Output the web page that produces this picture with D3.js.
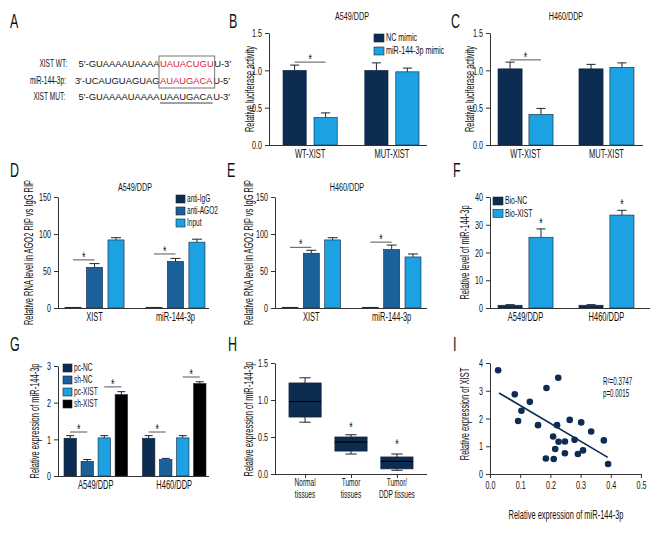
<!DOCTYPE html>
<html><head><meta charset="utf-8">
<script src="https://cdn.jsdelivr.net/npm/d3@7"></script>
<style>body{margin:0;background:#fff}svg{display:block}</style>
</head><body>
<svg id="fig" width="670" height="540"></svg>
<script>
// ---------------- DATA ----------------
// Panel A sequences
const seqLabels = ['XIST WT:', 'miR-144-3p:', 'XIST MUT:'];
const seqPrefix = ["5\u2032-GUAAAAUAAAA", "3\u2032-UCAUGUAGUAG", "5\u2032-GUAAAAUAAAA"];
const seqSite = ['UAUACUGU', 'AUAUGACA', 'UAAUGACA'];
const seqSuffix = ["U-3\u2032", "U-5\u2032", "U-3\u2032"];

// Panel B / C (luciferase)
const lucGroups = ['WT-XIST', 'MUT-XIST'];
const lucSeries = ['NC mimic', 'miR-144-3p mimic'];
const bValues = [[1.00, 0.37], [1.00, 0.98]];
const bErrors = [[0.07, 0.06], [0.10, 0.05]];
const cValues = [[1.02, 0.41], [1.02, 1.04]];
const cErrors = [[0.09, 0.08], [0.06, 0.06]];
const lucTicks = [0, 0.5, 1.0, 1.5];

// Panel D / E (RIP)
const ripGroups = ['XIST', 'miR-144-3p'];
const ripSeries = ['anti-IgG', 'anti-AGO2', 'Input'];
const dValues = [[1, 55, 92], [1, 63, 89]];
const dErrors = [[0, 5, 3], [0, 4, 4]];
const eValues = [[1, 74, 92], [1, 79, 69]];
const eErrors = [[0, 4, 3], [0, 6, 4]];
const ripTicks = [0, 50, 100, 150];

// Panel F (pull-down)
const cellGroups = ['A549/DDP', 'H460/DDP'];
const fSeries = ['Bio-NC', 'Bio-XIST'];
const fValues = [[1.0, 25.5], [1.0, 33.5]];
const fErrors = [[0.2, 3.0], [0.2, 1.7]];
const fTicks = [0, 10, 20, 30, 40];

// Panel G
const gSeries = ['pc-NC', 'sh-NC', 'pc-XIST', 'sh-XIST'];
const gValues = [[1.03, 0.40, 1.04, 2.22], [1.03, 0.45, 1.04, 2.52]];
const gErrors = [[0.07, 0.05, 0.06, 0.08], [0.07, 0.03, 0.06, 0.05]];
const gTicks = [0, 1, 2, 3];

// Panel H (box plots: min, q1, median, q3, max)
const hGroups = [['Normal', 'tissues'], ['Tumor', 'tissues'], ['Tumor/', 'DDP tissues']];
const hBoxes = [[0.70, 0.77, 0.98, 1.23, 1.30], [0.27, 0.31, 0.43, 0.50, 0.53], [0.05, 0.07, 0.17, 0.23, 0.27]];
const hStars = [null, 0.62, 0.39];
const hTicks = [0, 0.5, 1.0, 1.5];

// Panel I (scatter)
const iX = [0.027, 0.082, 0.104, 0.093, 0.132, 0.159, 0.187, 0.226, 0.185, 0.211, 0.209, 0.222,
            0.216, 0.227, 0.248, 0.248, 0.264, 0.280, 0.291, 0.302, 0.308, 0.335, 0.377, 0.391];
const iY = [3.74, 2.87, 2.28, 1.91, 2.60, 1.76, 3.10, 3.47, 0.56, 0.54, 1.35, 1.76,
            0.90, 1.16, 1.17, 0.75, 1.95, 1.23, 0.72, 1.86, 0.85, 1.53, 1.21, 0.36];
const iFitX = [0.03, 0.39];
const iFitY = [2.92, 0.60];
const iXTicks = [0, 0.1, 0.2, 0.3, 0.4, 0.5];
const iYTicks = [0, 1, 2, 3, 4];
const iStats = ['R\u00b2=0.3747', 'p=0.0015'];

// ---------------- STYLE ----------------
const FONT = "'Liberation Sans Narrow','Liberation Sans',Arial,sans-serif";
const NAVY = '#0c2c52', MID = '#1a619c', LIGHT = '#1ca1e2', BLACK = '#000000';
const AX = '#333';
const TICK = 11.5, LAB = 12;
const svg = d3.select('#fig');
svg.append('rect').attr('width', 670).attr('height', 540).attr('fill', '#fff');

function txt(g, x, y, s, size, anchor) {
  return g.append('text').attr('class', 'cnd').attr('x', x).attr('y', y).text(s)
    .attr('font-family', FONT).attr('font-size', size).attr('fill', '#111')
    .attr('text-anchor', anchor || 'start');
}
function styleAxis(a) {
  a.selectAll('path,line').attr('stroke', AX);
  a.selectAll('text').attr('class', 'cnd').attr('font-family', FONT).attr('font-size', TICK).attr('fill', '#111');
}

// panel letters
[['A', 10, 28], ['B', 229, 28], ['C', 451, 28], ['D', 10, 177], ['E', 227, 177], ['F', 453, 177],
 ['G', 10, 351], ['H', 228, 351], ['I', 453, 351]].forEach(d => txt(svg, d[1], d[2], d[0], 20));

// ---------------- PANEL A ----------------
(function () {
  const g = svg.append('g');
  const ys = [67, 84, 100];
  const siteX = 160;
  const SF = "'Liberation Sans','DejaVu Sans',sans-serif";
  let maxW = 0;
  seqLabels.forEach((lab, i) => {
    txt(g, 67 - i, ys[i], lab, 10.5, 'end');
    g.append('text').attr('x', siteX - 0.5).attr('y', ys[i]).attr('text-anchor', 'end')
      .attr('font-family', SF).attr('font-size', 9.4).attr('fill', '#111').text(seqPrefix[i]);
    const site = g.append('text').attr('x', siteX).attr('y', ys[i])
      .attr('font-family', SF).attr('font-size', 9.4)
      .attr('fill', i < 2 ? '#e0203a' : '#111').text(seqSite[i]);
    const w = site.node().getComputedTextLength();
    if (i < 2) maxW = Math.max(maxW, w);
    g.append('text').attr('x', siteX + w + 0.5).attr('y', ys[i])
      .attr('font-family', SF).attr('font-size', 9.4).attr('fill', '#111').text(seqSuffix[i]);
    if (i === 2) g.append('line').attr('x1', siteX).attr('x2', siteX + w).attr('y1', ys[i] + 3).attr('y2', ys[i] + 3)
      .attr('stroke', '#111').attr('stroke-width', 0.8);
  });
  g.append('rect').attr('x', siteX - 1).attr('y', 56).attr('width', maxW + 2).attr('height', 32)
    .attr('fill', 'none').attr('stroke', '#777').attr('stroke-width', 1);
})();

// ---------------- BAR PANEL HELPER ----------------
function barPanel(o) {
  const g = svg.append('g');
  const y = d3.scaleLinear().domain([o.ticks[0], o.ticks[o.ticks.length - 1]]).range([o.yBottom, o.yTop]);
  const gx = d3.scaleBand().domain(o.groups).range(o.groupRange).paddingInner(o.groupPad).paddingOuter(0);
  const sx = d3.scaleBand().domain(d3.range(o.series.length)).range([0, gx.bandwidth()]).paddingInner(o.innerPad).paddingOuter(0);
  const bw = sx.bandwidth();
  o.groups.forEach((grp, gi) => {
    o.series.forEach((s, si) => {
      const v = o.values[gi][si], e = o.errors[gi][si];
      const x = gx(grp) + sx(si);
      const cx = x + bw / 2;
      if (e > 0) {
        g.append('line').attr('x1', cx).attr('x2', cx).attr('y1', y(v)).attr('y2', y(v + e)).attr('stroke', '#1a2433').attr('stroke-width', 1);
        const cw = o.cap;
        g.append('line').attr('x1', cx - cw / 2).attr('x2', cx + cw / 2).attr('y1', y(v + e)).attr('y2', y(v + e)).attr('stroke', '#1a2433').attr('stroke-width', 1);
      }
      g.append('rect').attr('x', x).attr('y', y(v)).attr('width', bw).attr('height', y(o.ticks[0]) - y(v))
        .attr('fill', o.colors[si]).attr('stroke', '#14253a').attr('stroke-width', 0.6);
    });
  });
  const ya = g.append('g').attr('transform', `translate(${o.axisX},0)`)
    .call(d3.axisLeft(y).tickValues(o.ticks).tickSize(4).tickSizeOuter(0).tickFormat(o.fmt));
  styleAxis(ya);
  g.append('line').attr('x1', o.axisX).attr('x2', o.xEnd).attr('y1', o.yBottom + 0.5).attr('y2', o.yBottom + 0.5).attr('stroke', AX);
  o.groups.forEach(grp => txt(g, gx(grp) + gx.bandwidth() / 2, o.yBottom + 13, grp, LAB, 'middle'));
  txt(g, 0, 0, o.ylabel, LAB, 'middle').attr('transform', `translate(${o.ylabelX},${(o.yTop + o.yBottom) / 2}) rotate(-90)`);
  if (o.title) txt(g, o.titleX, o.titleY, o.title, 11.5, 'middle');
  (o.sig || []).forEach(s => {
    const x1 = gx(o.groups[s[0]]) + sx(s[1]) + bw / 2, x2 = gx(o.groups[s[0]]) + sx(s[2]) + bw / 2;
    g.append('line').attr('x1', x1).attr('x2', x2).attr('y1', y(s[3])).attr('y2', y(s[3])).attr('stroke', '#555').attr('stroke-width', 1);
    txt(g, (x1 + x2) / 2, y(s[3]) + 2, '*', 14, 'middle');
  });
  (o.stars || []).forEach(s => {
    const cx = gx(o.groups[s[0]]) + sx(s[1]) + bw / 2;
    txt(g, cx, y(s[2]) + 4, '*', 14, 'middle');
  });
  if (o.legend) {
    o.series.forEach((s, si) => {
      const ly = o.legend.y + si * o.legend.dy;
      g.append('rect').attr('x', o.legend.x).attr('y', ly).attr('width', o.legend.w).attr('height', 8)
        .attr('fill', o.colors[si]).attr('stroke', '#14253a').attr('stroke-width', 0.6);
      txt(g, o.legend.x + o.legend.w + 2, ly + 7.5, s, o.legend.fs);
    });
  }
}

const f1 = d3.format('.1f'), f0 = d3.format('d');

barPanel({axisX: 269, xEnd: 427, yTop: 33, yBottom: 145, ticks: lucTicks, fmt: f1,
  groups: lucGroups, series: lucSeries, values: bValues, errors: bErrors, colors: [NAVY, LIGHT],
  groupRange: [283, 419], groupPad: 0.337, innerPad: 0.25, cap: 9,
  title: 'A549/DDP', titleX: 352, titleY: 20, ylabel: 'Relative luciferase activity', ylabelX: 254,
  sig: [[0, 0, 1, 1.11]], legend: {x: 374, y: 34, dy: 13, w: 10, fs: 11.5}});
barPanel({axisX: 490, xEnd: 643, yTop: 33, yBottom: 145, ticks: lucTicks, fmt: f1,
  groups: lucGroups, series: lucSeries, values: cValues, errors: cErrors, colors: [NAVY, LIGHT],
  groupRange: [498, 634], groupPad: 0.32, innerPad: 0.22, cap: 9,
  title: 'H460/DDP', titleX: 566, titleY: 20, ylabel: 'Relative luciferase activity', ylabelX: 474,
  sig: [[0, 0, 1, 1.14]]});
barPanel({axisX: 58, xEnd: 209, yTop: 197, yBottom: 308, ticks: ripTicks, fmt: f0,
  groups: ripGroups, series: ripSeries, values: dValues, errors: dErrors, colors: [NAVY, MID, LIGHT],
  groupRange: [65, 205], groupPad: 0.27, innerPad: 0.25, cap: 10,
  title: 'A549/DDP', titleX: 135, titleY: 191, ylabel: 'Relative RNA level in AGO2 RIP vs IgG RIP', ylabelX: 33,
  sig: [[0, 0, 1, 65], [1, 0, 1, 73]], legend: {x: 176, y: 195, dy: 12, w: 9, fs: 10.5}});
barPanel({axisX: 275, xEnd: 427, yTop: 197, yBottom: 308, ticks: ripTicks, fmt: f0,
  groups: ripGroups, series: ripSeries, values: eValues, errors: eErrors, colors: [NAVY, MID, LIGHT],
  groupRange: [282, 421], groupPad: 0.27, innerPad: 0.25, cap: 10,
  title: 'H460/DDP', titleX: 347, titleY: 191, ylabel: 'Relative RNA level in AGO2 RIP vs IgG RIP', ylabelX: 253,
  sig: [[0, 0, 1, 82], [1, 0, 1, 89]]});
barPanel({axisX: 490, xEnd: 650, yTop: 197, yBottom: 308, ticks: fTicks, fmt: f0,
  groups: cellGroups, series: fSeries, values: fValues, errors: fErrors, colors: [NAVY, LIGHT],
  groupRange: [498, 634], groupPad: 0.32, innerPad: 0.22, cap: 9,
  ylabel: 'Relative level of miR-144-3p', ylabelX: 469,
  stars: [[0, 1, 30.4], [1, 1, 37.0]], legend: {x: 493, y: 197, dy: 12.5, w: 10, fs: 11}});
barPanel({axisX: 58, xEnd: 209, yTop: 366, yBottom: 476, ticks: gTicks, fmt: f0,
  groups: cellGroups, series: gSeries, values: gValues, errors: gErrors, colors: [NAVY, MID, LIGHT, BLACK],
  groupRange: [64, 206], groupPad: 0.19, innerPad: 0.27, cap: 8,
  ylabel: 'Relative expression of miR-144-3p', ylabelX: 39,
  sig: [[0, 0, 1, 1.2], [0, 2, 3, 2.43], [1, 0, 1, 1.2], [1, 2, 3, 2.7]], legend: {x: 63, y: 364, dy: 12, w: 9, fs: 10.5}});

// ---------------- PANEL H ----------------
(function () {
  const g = svg.append('g');
  const y = d3.scaleLinear().domain([0, 1.5]).range([474, 363]);
  const x = d3.scaleBand().domain(d3.range(hBoxes.length)).range([289, 413]).paddingInner(0.3).paddingOuter(0);
  const bw = x.bandwidth();
  hBoxes.forEach((b, i) => {
    const cx = x(i) + bw / 2, cw = bw * 0.35;
    g.append('line').attr('x1', cx).attr('x2', cx).attr('y1', y(b[0])).attr('y2', y(b[4])).attr('stroke', '#1a2433');
    [b[0], b[4]].forEach(v => g.append('line').attr('x1', cx - cw / 2).attr('x2', cx + cw / 2).attr('y1', y(v)).attr('y2', y(v)).attr('stroke', '#1a2433'));
    g.append('rect').attr('x', x(i)).attr('y', y(b[3])).attr('width', bw).attr('height', y(b[1]) - y(b[3]))
      .attr('fill', NAVY).attr('stroke', '#14253a').attr('stroke-width', 0.8);
    g.append('line').attr('x1', x(i)).attr('x2', x(i) + bw).attr('y1', y(b[2])).attr('y2', y(b[2])).attr('stroke', '#000').attr('stroke-width', 1.2);
    if (hStars[i] != null) txt(g, cx, y(hStars[i]) + 4, '*', 14, 'middle');
    hGroups[i].forEach((l, k) => txt(g, cx, 486 + k * 12, l, 10.5, 'middle'));
  });
  const ya = g.append('g').attr('transform', 'translate(275,0)')
    .call(d3.axisLeft(y).tickValues(hTicks).tickSize(4).tickSizeOuter(0).tickFormat(d3.format('.1f')));
  styleAxis(ya);
  const xa = g.append('g').attr('transform', 'translate(0,474)')
    .call(d3.axisBottom(d3.scalePoint().domain(d3.range(3)).range([x(0) + bw / 2, x(2) + bw / 2])).tickSize(4).tickSizeOuter(0).tickFormat(''));
  xa.select('path').remove();
  xa.selectAll('line').attr('stroke', AX);
  g.append('line').attr('x1', 275).attr('x2', 427).attr('y1', 474.5).attr('y2', 474.5).attr('stroke', AX);
  txt(g, 0, 0, 'Relative expression of miR-144-3p', LAB, 'middle').attr('transform', 'translate(253,419) rotate(-90)');
})();

// ---------------- PANEL I ----------------
let refLabel;
(function () {
  const g = svg.append('g');
  const x = d3.scaleLinear().domain([0, 0.5]).range([490, 641]);
  const y = d3.scaleLinear().domain([0, 4]).range([474, 363]);
  const ya = g.append('g').attr('transform', 'translate(490,0)')
    .call(d3.axisLeft(y).tickValues(iYTicks).tickSize(4).tickSizeOuter(0).tickFormat(d3.format('d')));
  const xa = g.append('g').attr('transform', 'translate(0,474)')
    .call(d3.axisBottom(x).tickValues(iXTicks).tickSize(4).tickSizeOuter(0).tickFormat(d3.format('.1f')));
  styleAxis(ya); styleAxis(xa);
  g.append('line').attr('x1', x(iFitX[0])).attr('x2', x(iFitX[1])).attr('y1', y(iFitY[0])).attr('y2', y(iFitY[1]))
    .attr('stroke', NAVY).attr('stroke-width', 1.6);
  g.selectAll('circle').data(iX).enter().append('circle')
    .attr('cx', d => x(d)).attr('cy', (d, i) => y(iY[i])).attr('r', 3.3).attr('fill', NAVY);
  txt(g, 603, 385, iStats[0], 10);
  txt(g, 603, 397, iStats[1], 10);
  txt(g, 0, 0, 'Relative expression of XIST', LAB, 'middle').attr('transform', 'translate(469,414) rotate(-90)');
  refLabel = txt(g, 566, 519, 'Relative expression of miR-144-3p', LAB, 'middle');
})();

// ---------------- CONDENSE LABEL TEXT HORIZONTALLY (reference uses a condensed face) ----------------
const factor = 115 / refLabel.node().getComputedTextLength();
svg.selectAll('text.cnd').each(function () {
  const ax = +(this.getAttribute('x') || 0);
  const t = this.getAttribute('transform') || '';
  this.setAttribute('transform', `${t} translate(${ax},0) scale(${factor},1) translate(${-ax},0)`);
});
</script>
</body></html>
